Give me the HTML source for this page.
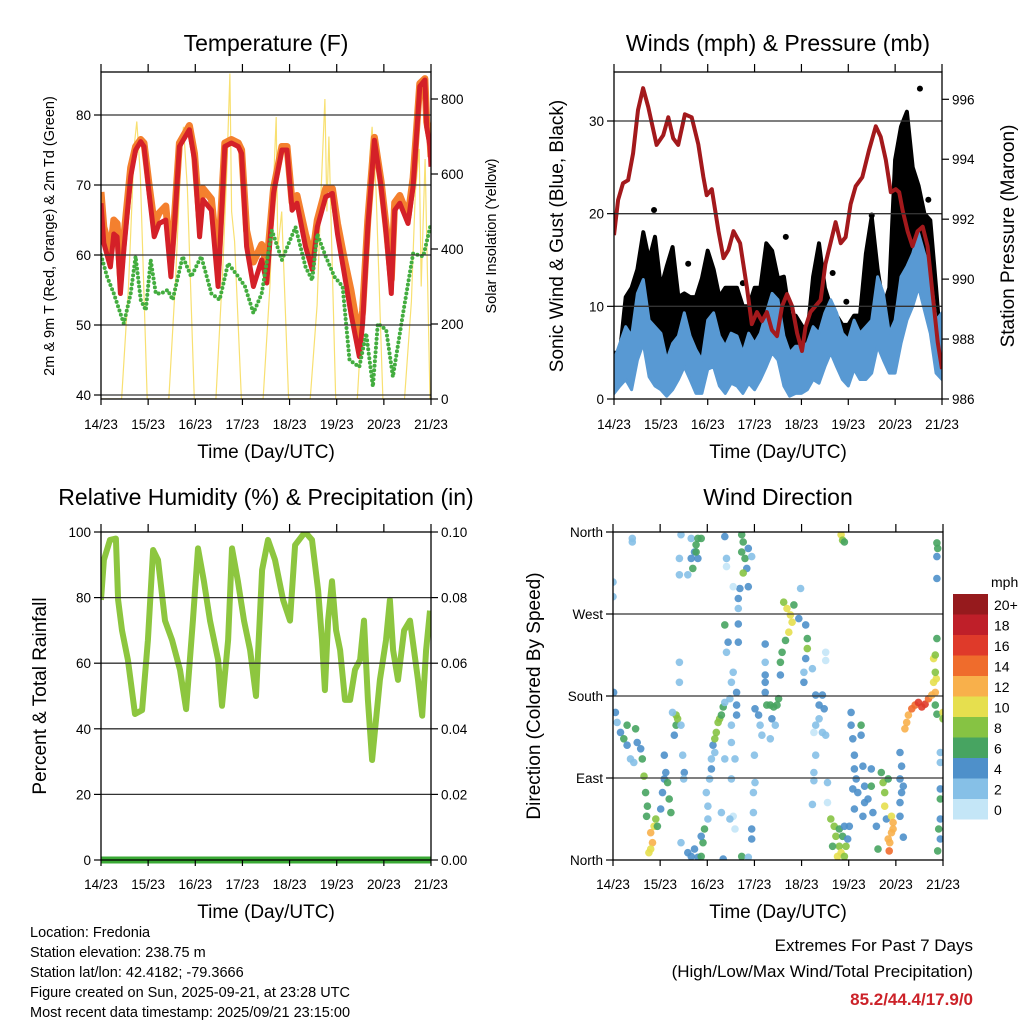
<!DOCTYPE html>
<html><head><meta charset="utf-8"><style>
body{margin:0;background:#fff;}
svg{display:block;font-family:"Liberation Sans",sans-serif;}
</style></head><body>
<svg id="c" width="1024" height="1024" viewBox="0 0 1024 1024" xmlns="http://www.w3.org/2000/svg">
<defs>
<clipPath id="cp1"><rect x="101" y="72" width="330" height="327"/></clipPath>
<clipPath id="cp2"><rect x="614" y="72" width="328" height="327"/></clipPath>
<clipPath id="cp3"><rect x="101" y="532" width="330" height="328"/></clipPath>
<clipPath id="cp4"><rect x="613" y="532" width="330" height="328"/></clipPath>
</defs>
<g id="g1"></g>
<g id="g2"></g>
<g id="g3"></g>
<g id="g4"></g>
<g id="txt">
<text x="266" y="51" font-size="23" text-anchor="middle">Temperature (F)</text>
<text x="778" y="51" font-size="23" text-anchor="middle">Winds (mph) &amp; Pressure (mb)</text>
<text x="266" y="505" font-size="23" text-anchor="middle">Relative Humidity (%) &amp; Precipitation (in)</text>
<text x="778" y="505" font-size="23" text-anchor="middle">Wind Direction</text>
<text x="266" y="458" font-size="19" text-anchor="middle">Time (Day/UTC)</text>
<text x="778" y="458" font-size="19" text-anchor="middle">Time (Day/UTC)</text>
<text x="266" y="918" font-size="19" text-anchor="middle">Time (Day/UTC)</text>
<text x="778" y="918" font-size="19" text-anchor="middle">Time (Day/UTC)</text>
<text transform="translate(54,236) rotate(-90)" font-size="14.5" text-anchor="middle">2m &amp; 9m T (Red, Orange) &amp; 2m Td (Green)</text>
<text transform="translate(496,236) rotate(-90)" font-size="14.5" text-anchor="middle">Solar Insolation (Yellow)</text>
<text transform="translate(563,236) rotate(-90)" font-size="19" text-anchor="middle">Sonic Wind &amp; Gust (Blue, Black)</text>
<text transform="translate(1014,236) rotate(-90)" font-size="19" text-anchor="middle">Station Pressure (Maroon)</text>
<text transform="translate(46,696) rotate(-90)" font-size="19" text-anchor="middle">Percent &amp; Total Rainfall</text>
<text transform="translate(540,696) rotate(-90)" font-size="19" text-anchor="middle">Direction (Colored By Speed)</text>
<g font-size="14.5">
<text x="30" y="937">Location: Fredonia</text>
<text x="30" y="957">Station elevation: 238.75 m</text>
<text x="30" y="977">Station lat/lon: 42.4182; -79.3666</text>
<text x="30" y="997">Figure created on Sun, 2025-09-21, at 23:28 UTC</text>
<text x="30" y="1017">Most recent data timestamp: 2025/09/21 23:15:00</text>
</g>
<text x="973" y="951" font-size="17" text-anchor="end">Extremes For Past 7 Days</text>
<text x="973" y="977" font-size="17" text-anchor="end">(High/Low/Max Wind/Total Precipitation)</text>
<text x="973" y="1005" font-size="17" font-weight="bold" fill="#cc2229" text-anchor="end">85.2/44.4/17.9/0</text>
</g>
</svg>
<script>
const dayLabels=["14/23","15/23","16/23","17/23","18/23","19/23","20/23","21/23"];
// Temperature
const tHours=[0,1.4,4.8,6.5,8.2,9.9,11.6,15.1,17.6,20.2,21.9,24.5,27.1,29.6,33,35.6,37.3,39.9,45,47.6,50.2,51.9,56.2,59.6,63,66.4,69.9,71.6,74.1,77.6,81.8,84.4,87.8,92.1,94.7,97.3,99.8,104.1,107.5,110.1,114.4,117.8,120.4,123.8,127.2,131.5,133.2,135.8,139.2,142.6,145.2,147.8,149.5,152.1,156.3,158.9,162.3,164.9,165.8,167.5,168];
const tRed=[67.4,61.7,58.3,63,62.6,54.5,60.7,71.2,75,76.2,75.5,68.8,62.6,64.5,65,56.9,64,75.5,77.9,73.6,62.6,67.9,66.4,55.5,75.5,76,75.5,74.5,61.2,55.5,59.3,56,68.8,75,75,66.4,67.4,61.2,57.9,64,68.3,68.8,63,57.4,51.7,45.5,50.2,64,76.4,69.8,63,54.5,66.4,67.4,64.5,69.8,84.1,85,78.3,75.5,72.6];
const tOrange=[69,64,60.5,65,64.5,57,62.5,72.5,75.5,76.5,76,70,64.5,66,67,59,65,76,78.5,74.5,65,69.5,68,58.5,76,76.5,76,75,63.5,59,61.5,58.5,69.5,75.5,75.5,67.5,68.5,63,59.5,65,69.5,69.5,64.5,59.5,55,48,52,65,76.8,70.5,64,56.5,67.5,68.5,65.5,71,84.5,85.2,79,76.5,74];
const tdHours=[0,3.1,6.5,11.6,15.1,17.6,20.2,22.8,25.3,27.9,30.5,33.9,36.5,41.6,45.9,51,56.2,60.4,64.7,69.9,73.3,77.6,81.8,87,92.1,99,104.1,107.5,110.1,114.4,118.8,123,126.5,131.5,135,138.4,140.9,145.2,148.6,153.8,158.9,164.1,168];
const tDew=[60,56.9,54.5,50.2,54.5,59.8,53.6,52.1,59.3,54.5,54.5,55,53.6,59.8,56.9,59.8,54.5,53.6,58.8,56.9,55.5,51.7,54.5,63.5,59.3,64,58.3,56.4,63,59.8,56.9,55.5,45,44,48.8,41.2,50.2,49.3,42.6,51.7,60.2,59.8,64.5];
const solHours=[0,10.5,14,17,18.2,20,23.5,34.5,38,41,42,44,47.5,58.5,62,64,65.6,66.5,68,71.5,82.5,86,88,89.2,90,92,95.5,106.5,110,112,114,115,116,119.5,130.5,134,137,138,140,143.5,154.5,158,160,162,163,165,167.5,168];
const solVals=[0,0,300,680,740,600,0,0,320,680,726,560,0,0,350,600,868,500,420,0,0,300,600,752,400,500,0,0,250,550,800,500,700,0,0,320,660,726,560,0,0,260,550,667,300,640,0,0];
const tTicks=[40,50,60,70,80];
const solTicks=[0,200,400,600,800];
// Winds
const pHours=[0,2.1,4.6,7.2,9.8,12.3,14.9,17.5,21.8,25.2,27.8,30.3,32.9,36.3,39.8,43.2,45.8,47.5,50.1,53.5,56.1,58.6,61.2,64.6,68.1,70.6,73.2,75.8,78.3,80.9,83.5,86.1,88.6,91.2,93.8,96.3,98.1,100.6,103.2,105.8,108.3,110.9,113.5,116.1,118.6,121.2,123.8,127.2,130.6,134.1,136.6,139.2,141.8,144.3,146.1,147.8,150.4,152.9,155.5,158.1,160.6,163.2,165.8,168];
const pVals=[991.47,992.64,993.2,993.3,994.2,995.64,996.37,995.75,994.48,994.8,995.4,994.7,994.48,995.5,995.4,994.5,993.4,992.8,993,991.6,990.7,990.97,991.6,991.2,989.7,988.5,988.9,988.6,988.9,988.3,988.1,989.1,989.5,989.1,988.2,987.6,988.4,988.9,989.1,989.3,990.5,991.2,991.9,991.2,991.4,992.5,993.1,993.4,994.3,995.1,994.75,993.98,992.9,993,992.9,992.3,991.6,991.1,991.6,991.75,991.1,989.5,987.9,987];
const wHours=[0,3,6,9,12,15,18,21,24,27,30,33,36,39,42,45,48,51,54,57,60,63,66,69,72,75,78,81,84,87,90,93,96,99,102,105,108,111,114,117,120,123,126,129,132,135,138,141,144,147,150,153,156,159,162,165,168];
const windHi=[4.2,6,7.8,6.8,11.4,12.9,8.5,7.8,7.1,4.2,6,6.8,9.3,6.8,5.3,4.2,8.5,9.3,6.8,5.7,7.1,6.8,5,7.1,6,7.1,9.3,11.4,10.7,6.8,5,5.7,5.7,6,7.8,7.1,9.3,10.7,9.3,7.1,6.4,8.5,7.1,7.8,8.5,13.2,11.4,7.1,8.5,13.2,14.3,15.7,17.9,15.7,13.6,8.5,9.3];
const windLo=[0.6,1.4,2.1,1,4.2,6,2.4,1.4,1,0.3,1,2.1,3.5,2.1,0.6,0.6,3.2,3.5,1.4,0.6,1.7,1.4,0.6,1.7,1,2.1,3.5,5,4.2,1.4,0.3,0.6,0.6,1,2.1,1.7,3.5,5,3.5,2.1,1.4,3.2,2.1,2.1,2.8,5.7,4.2,2.8,2.8,6,8.5,10,12.1,9.6,7.1,2.8,2.1];
const gustHi=[5,5,11,12,14,18,15,17.5,12,14.3,16.4,11,11.4,11,11,13,16,14,11,12,12,12,10,10,12,12,16.8,16,13,13.2,9,9,8,7,13.2,16.8,12,10,9,8,8,9,9,15.7,19.7,14,10,12,25.8,29.4,31,25,23,20,19.3,12,4];
const gustDotH=[9,20.5,38,66,88,112,119,129,132,156.7,150,161,146];
const gustDotV=[7,20.4,14.6,12.5,17.5,13.6,10.5,8.5,19.8,33.5,29,21.5,27.5];
const wTicks=[0,10,20,30];
const pTicks=[986,988,990,992,994,996];
// RH
const rhHours=[0,1.5,4.6,7.6,8.7,10.7,13.7,17.3,20.9,23.9,26.5,29,32.6,36.2,40.2,43.3,46.8,49.4,52.4,55.5,59.6,61.6,64.7,66.7,69.7,72.8,75.9,78.9,82,85,88.6,92.7,96.2,98.8,103.9,107.4,110.5,112.5,114,115.6,117.6,119.7,121.7,124.2,126.8,129.3,131.9,133.9,135.9,138,140,142,145.1,147.1,148.7,151.2,154.3,157.3,161.4,163.5,165.5,167.5];
const rhVals=[79.3,91.5,97.6,98,79.3,70,61,44.5,45.7,67,94.5,91.5,73,67,58,46,73,95,85,73,61,47,67,95,85,73,64,50,88.4,97.6,91.5,79.3,73,96,100,97.6,82.3,67,51.8,73,85,70,64,48.8,48.8,58,61,73,48.8,30.5,42.7,54.9,67,79.3,64,54.9,70,73,54.9,44,64,76];
const precipHours=[0,168];
const precipVals=[0,0];
const rhTicks=[0,20,40,60,80,100];
const prTicks=["0.00","0.02","0.04","0.06","0.08","0.10"];
// Wind direction
const windHour=[0.3,1.2,2.1,3.8,5.5,7.2,8.9,10.6,7.2,11.5,12.3,14.1,14.9,15.8,16.6,17.5,17.1,19.2,20.1,19.2,18.3,20.9,21.8,22.6,24.3,25.2,26.1,26.9,27.8,28.6,29.5,26.1,9.8,9.8,0,0,32.1,32.1,31.2,32.9,34.6,35.5,36.3,36,30.3,33.8,33.8,34.6,39.8,43.2,44.9,42.3,41.5,39.8,40.6,38.1,33.8,33.8,43.2,42.3,34.6,38.1,39.8,43.2,44.9,45.8,46.6,44.9,41.5,48.3,48.3,47.5,49.2,50.1,50.9,51.8,52.6,53.5,54.3,55.2,56.1,50.1,51.8,56.9,59.5,60.3,61.2,57.8,58.6,56.9,62.9,62.9,62.9,60.3,60.3,62.1,56.9,60.3,61.2,59.5,62.1,56.1,55.2,56.9,57.8,57.8,65.5,66.3,65.5,67.2,68.1,66.3,64.6,61.2,63.8,63.8,63.8,63.8,68.9,68.9,70.6,65.5,68.9,70.6,70.6,71.5,71.5,72.3,72,72.3,74.1,74.9,75.8,77.5,77.5,78.3,80.1,81.8,83.5,84.3,80.9,82.6,80.1,77.5,77.5,77.5,86.9,88.6,90.3,91.2,89.5,87.8,92.1,94.6,95.5,86.1,85.2,85.2,98.1,98.9,98.9,98.1,97.2,97.2,101.5,108.3,108.3,103.2,104.9,106.6,107.5,104.9,103.2,106.6,108.3,102.3,103.2,102.3,102.3,101.5,109.2,109.2,110.9,112.6,113.5,115.2,114.3,116.1,117.8,118.6,116.9,115.2,111.8,119.5,117.8,116.1,116.9,117.8,121.2,121.2,122.1,122.9,122.9,123.8,122.1,124.6,126.3,126.3,127.2,128.1,128.1,127.2,129.8,131.5,131.5,132.3,134.1,134.9,120.3,122.9,136.6,137.5,138.3,138.3,140.1,139.2,141.8,142.6,141.8,140.9,140.6,140.1,142.6,146.1,146.9,146.1,146.9,146.1,147.8,146.1,147.8,148.6,149.5,150.4,152.1,153.8,155.5,157.2,158.9,160.6,162.3,164.1,164.6,163.2,164.1,163.2,164.9,164.1,164.1,164.9,168,168,164.9,165.3,164.9,164.9,166.6,166.6,166.6,166.6,166.6,165.8,166.6,165.3];
const windDir=[184,162,151,140,133,126,111,107,148,144,129,122,111,92,74,59,48,30,19,12,8,37,45,37,56,74,89,96,85,67,52,115,353,349,305,289,159,148,137,155,148,115,96,89,162,217,195,357,353,353,353,346,338,331,320,313,331,313,331,338,19,8,4,3,4,19,34,26,12,45,59,74,89,111,126,133,140,151,155,159,168,100,118,173,177,195,206,228,239,258,184,170,159,148,129,111,111,89,48,45,34,1,52,355,331,322,357,349,338,331,320,315,298,300,287,276,259,239,342,300,333,4,3,34,23,52,74,85,115,166,159,148,137,184,203,170,170,168,170,177,155,148,133,237,217,195,283,276,269,261,250,241,280,265,298,228,217,203,258,243,232,221,206,195,210,228,219,181,170,181,166,155,148,140,137,140,115,96,87,61,85,63,45,37,26,15,4,8,4,15,26,34,15,23,37,357,351,349,162,148,133,115,100,89,78,74,148,137,103,81,63,48,67,100,81,52,37,12,37,56,96,85,74,59,89,45,48,41,30,19,10,23,34,118,103,89,74,63,81,48,25,144,151,159,166,170,173,168,171,177,181,184,199,195,206,221,243,225,170,160,162,155,348,342,333,309,118,107,78,67,45,34,23,10];
const windSpd=[4,4,3,5,6,4,3,2,6,7,5,4,6,8,7,6,6,12,12,11,10,10,9,7,4,4,4,5,6,7,6,4,2,2,2,2,8,7,4,8,2,2,4,3,2,2,2,2,2,6,6,6,5,4,6,3,2,2,5,6,2,4,4,5,6,6,6,5,4,2,2,2,2,3,4,8,8,8,8,7,7,4,3,2,2,2,2,2,4,6,4,4,4,2,2,2,2,2,1,2,1,4,2,4,2,1,6,6,6,6,5,8,4,1,4,2,4,4,4,4,2,6,2,4,4,2,2,2,2,4,4,3,2,4,4,6,6,6,6,6,4,3,2,4,2,4,8,10,10,10,10,7,6,4,2,6,6,4,4,6,8,4,2,4,2,1,1,4,4,4,4,2,2,2,2,1,2,2,2,2,2,1,8,8,8,9,10,10,9,8,6,6,6,4,4,10,9,6,4,4,4,4,4,4,5,4,6,4,4,4,4,4,4,4,6,4,4,6,4,4,6,8,8,10,6,4,10,12,12,12,14,12,13,4,4,4,4,4,4,4,4,12,12,13,14,15,16,17,16,14,13,12,11,10,8,10,6,8,6,6,10,9,6,6,4,4,2,2,4,6,4,6,4,6];
const spdColors=["#c4e6f7","#86c0e7","#4e90ca","#47a461","#86c343","#e6df4e","#f8b04b","#ef6c2c","#df3a2a","#bf1f29","#961a1d"];
const spdLabels=["0","2","4","6","8","10","12","14","16","18","20+"];
const dirTicks=["North","East","South","West","North"];

const NS="http://www.w3.org/2000/svg";
function mk(tag,attrs,parent){const e=document.createElementNS(NS,tag);for(const k in attrs)e.setAttribute(k,attrs[k]);parent.appendChild(e);return e;}
function lin(d0,d1,r0,r1){return v=>r0+(v-d0)*(r1-r0)/(d1-d0);}
function pathD(xs,ys,fx,fy){return xs.map((h,i)=>(i?"L":"M")+fx(h).toFixed(1)+","+fy(ys[i]).toFixed(1)).join("");}

function frame(g,x0,y0,x1,y1,fx,gridYs,leftTicks,leftLabels,rightTicks,rightLabels,labelY){
  gridYs.forEach(y=>{const l=mk("line",{x1:x0,x2:x1,y1:y,y2:y,stroke:"#333","stroke-width":1.3},g);
    
    });
  const r=mk("rect",{x:x0,y:y0,width:x1-x0,height:y1-y0,fill:"none",stroke:"#000","stroke-width":1.3},g);
  
  
  for(let d=0;d<8;d++){const x=fx(d*24);
    mk("line",{x1:x,x2:x,y1:y0,y2:y0-8,stroke:"#000","stroke-width":1.2},g);
    mk("line",{x1:x,x2:x,y1:y1,y2:y1+6,stroke:"#000","stroke-width":1.2},g);
    const t=mk("text",{x:x,y:labelY,"font-size":13.5,"text-anchor":"middle"},g);t.textContent=dayLabels[d];
    
    }
  leftTicks.forEach((y,i)=>{mk("line",{x1:x0-7,x2:x0,y1:y,y2:y,stroke:"#000","stroke-width":1.2},g);
    const t=mk("text",{x:x0-10,y:y+5,"font-size":13.5,"text-anchor":"end"},g);t.textContent=leftLabels[i];
    
    });
  rightTicks.forEach((y,i)=>{mk("line",{x1:x1,x2:x1+7,y1:y,y2:y,stroke:"#000","stroke-width":1.2},g);
    const t=mk("text",{x:x1+10,y:y+5,"font-size":13.5,"text-anchor":"start"},g);t.textContent=rightLabels[i];
    
    });
}

// Panel 1
(function(){const g=document.getElementById("g1");
 const fx=lin(0,168,101,431),fy=lin(40,80,395,115),fs=lin(0,800,399,99);
 const pg=mk("g",{"clip-path":"url(#cp1)"},g);
 const s=mk("path",{d:pathD(solHours,solVals,fx,fs),fill:"none",stroke:"#f8e071","stroke-width":1.2},pg);
 
 
 const o=mk("path",{d:pathD(tHours,tOrange,fx,fy),fill:"none",stroke:"#f4802e","stroke-width":7,"stroke-linejoin":"round"},pg);
 
 
 const r=mk("path",{d:pathD(tHours,tRed,fx,fy),fill:"none",stroke:"#d42028","stroke-width":5,"stroke-linejoin":"round"},pg);
 
 
 const d=mk("path",{d:pathD(tdHours,tDew,fx,fy),fill:"none",stroke:"#43ad3f","stroke-width":4,"stroke-dasharray":"0 4.5","stroke-linecap":"round"},pg);
 
 
 frame(g,101,72,431,399,fx,tTicks.map(fy),tTicks.map(fy),tTicks.map(String),solTicks.map(fs),solTicks.map(String),429);
})();
// Panel 2
(function(){const g=document.getElementById("g2");
 const fx=lin(0,168,614,942),fy=lin(0,30,399,121),fp=lin(986,996,399,99.3);
 const pg=mk("g",{"clip-path":"url(#cp2)"},g);
 const gd=wHours.map((h,i)=>(i?"L":"M")+fx(h).toFixed(1)+","+fy(gustHi[i]).toFixed(1)).join("")+
   wHours.slice().reverse().map((h,j)=>{const i=wHours.length-1-j;return "L"+fx(h).toFixed(1)+","+fy(windLo[i]+1).toFixed(1);}).join("")+"Z";
 const gp=mk("path",{d:gd,fill:"#000",stroke:"#000","stroke-width":4,"stroke-linejoin":"round"},pg);
 
 
 gustDotH.forEach((h,i)=>{const c=mk("circle",{cx:fx(h),cy:fy(gustDotV[i]),r:3,fill:"#000"},pg);
   
   });
 const bd=wHours.map((h,i)=>(i?"L":"M")+fx(h).toFixed(1)+","+fy(windHi[i]).toFixed(1)).join("")+
   wHours.slice().reverse().map((h,j)=>{const i=wHours.length-1-j;return "L"+fx(h).toFixed(1)+","+fy(windLo[i]).toFixed(1);}).join("")+"Z";
 const bp=mk("path",{d:bd,fill:"#5899d3",stroke:"#5899d3","stroke-width":3,"stroke-linejoin":"round"},pg);
 
 
 const pp=mk("path",{d:pathD(pHours,pVals,fx,fp),fill:"none",stroke:"#a3191c","stroke-width":4,"stroke-linejoin":"round"},pg);
 
 
 frame(g,614,72,942,399,fx,wTicks.slice(1).map(fy),wTicks.map(fy),wTicks.map(String),pTicks.map(fp),pTicks.map(String),429);
})();
// Panel 3
(function(){const g=document.getElementById("g3");
 const fx=lin(0,168,101,431),fy=lin(0,100,860,532),fr=lin(0,0.1,860,532);
 const pg=mk("g",{"clip-path":"url(#cp3)"},g);
 const rp=mk("path",{d:pathD(rhHours,rhVals,fx,fy),fill:"none",stroke:"#8dc63f","stroke-width":6,"stroke-linejoin":"round"},pg);
 
 
 const pr=mk("path",{d:pathD(precipHours,precipVals,fx,fr),fill:"none",stroke:"#3aa935","stroke-width":7},g);
 
 
 frame(g,101,532,431,860,fx,rhTicks.slice(1,5).map(fy),rhTicks.map(fy),rhTicks.map(String),rhTicks.map(fy),prTicks,889);
})();
// Panel 4
(function(){const g=document.getElementById("g4");
 const fx=lin(0,168,613,943),fy=lin(0,360,860,532);
 const pg=mk("g",{"clip-path":"url(#cp4)"},g);
 const ty=[0,90,180,270,360].map(fy);
 frame(g,613,532,943,860,fx,ty.slice(1,4),ty,dirTicks,[],[],889);
 windHour.forEach((h,i)=>{const k=Math.min(10,Math.floor(windSpd[i]/2));
   const c=mk("circle",{cx:fx(h).toFixed(1),cy:fy(windDir[i]).toFixed(1),r:3.8,fill:spdColors[k],"fill-opacity":0.9},pg);
   
   });
 const lg=mk("g",{},g);
 
 
 const t=mk("text",{x:991,y:587,"font-size":14},lg);t.textContent="mph";
 spdColors.forEach((c,i)=>{const y=594+(10-i)*20.5;
   const b=mk("rect",{x:953,y:y,width:35,height:20.5,fill:c},lg);
   
   
   const tx=mk("text",{x:994,y:y+16,"font-size":14},lg);tx.textContent=spdLabels[i];
   
   });
})();
</script>
</body></html>
